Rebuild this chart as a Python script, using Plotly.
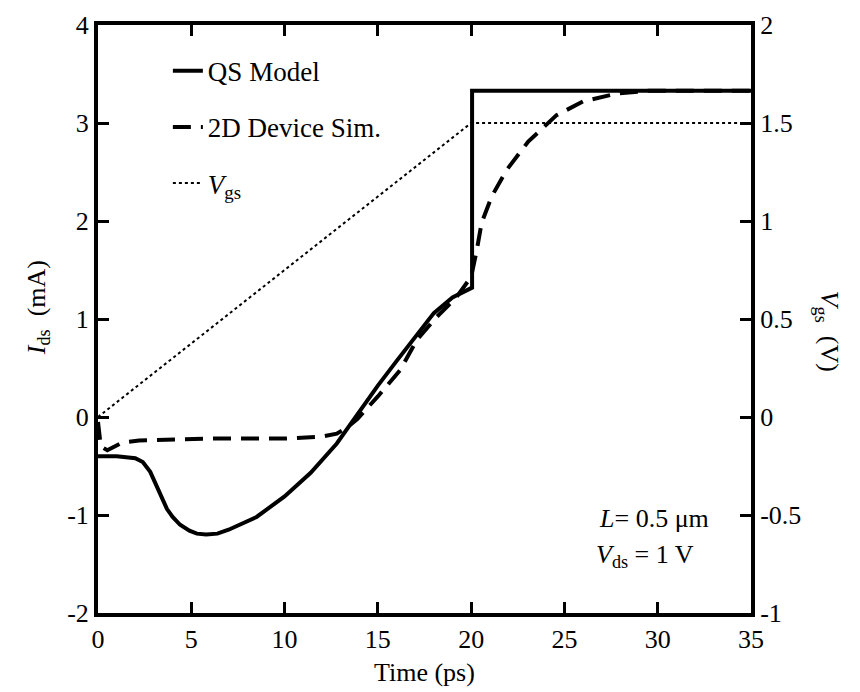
import plotly.graph_objects as go

# ---- data ----
qs_t = [0, 1, 2, 2.4, 2.8, 3.1, 3.4, 3.7, 4.0, 4.4, 4.9, 5.3, 5.8, 6.4, 7.0, 8.5, 10.0,
        11.4, 12.8, 13.7, 14.4, 15.0, 16.0, 17.0, 18.0, 19.0, 20.05, 20.05, 35]
qs_i = [-0.40, -0.40, -0.42, -0.46, -0.56, -0.69, -0.83, -0.94, -1.02, -1.10, -1.16,
        -1.19, -1.20, -1.19, -1.15, -1.02, -0.81, -0.57, -0.27, -0.03, 0.17, 0.32,
        0.57, 0.82, 1.06, 1.22, 1.32, 3.33, 3.33]

sim_t = [0, 0.15, 0.5, 1.3, 2.2, 4, 6, 8, 10, 12, 12.8, 13.4, 13.9, 15.0, 16.2, 17.1,
         18.15, 19.2, 20.0, 20.3, 20.56, 21.1, 21.9, 23.06, 24.58, 26.0, 27.8, 29.5, 35]
sim_i = [-0.05, -0.30, -0.34, -0.26, -0.24, -0.23, -0.22, -0.22, -0.22, -0.20, -0.17,
         -0.10, -0.02, 0.21, 0.48, 0.79, 1.02, 1.22, 1.43, 1.70, 1.98, 2.25, 2.52,
         2.81, 3.08, 3.22, 3.30, 3.33, 3.33]

vgs_t = [0, 20, 35]
vgs_v = [0, 1.5, 1.5]

x_ticks = [0, 5, 10, 15, 20, 25, 30, 35]
x_labels = ["0", "5", "10", "15", "20", "25", "30", "35"]
yl_ticks = [-2, -1, 0, 1, 2, 3, 4]
yl_labels = ["-2", "-1", "0", "1", "2", "3", "4"]
yr_ticks = [-1, -0.5, 0, 0.5, 1, 1.5, 2]
yr_labels = ["-1", "-0.5", "0", "0.5", "1", "1.5", "2"]

FONT = "Liberation Serif, Times New Roman, Times, DejaVu Serif, serif"

fig = go.Figure()
fig.add_trace(go.Scatter(x=qs_t, y=qs_i, mode="lines", name="QS Model",
                         legendgroup="a",
                         line=dict(color="black", width=4)))
fig.add_trace(go.Scatter(x=sim_t, y=sim_i, mode="lines", name="2D Device Sim.",
                         legendgroup="b",
                         line=dict(color="black", width=4, dash="18px,10px")))
fig.add_trace(go.Scatter(x=vgs_t, y=vgs_v, mode="lines", name="<i>V</i><sub>gs</sub>",
                         legendgroup="c", yaxis="y2",
                         line=dict(color="black", width=2, dash="3px,3px")))

axis_common = dict(showline=True, linecolor="black", linewidth=4, ticks="inside",
                   ticklen=11, tickwidth=3, tickcolor="black", showgrid=False,
                   zeroline=False, tickfont=dict(family=FONT, size=26, color="black"))

fig.update_layout(
    width=860, height=692,
    margin=dict(l=98, r=109, t=25, b=79),
    paper_bgcolor="white", plot_bgcolor="white",
    font=dict(family=FONT, size=26, color="black"),
    xaxis=dict(range=[0, 35], tickvals=x_ticks, ticktext=x_labels, mirror="ticks",
               **axis_common),
    yaxis=dict(range=[-2, 4], tickvals=yl_ticks, ticktext=yl_labels, **axis_common),
    yaxis2=dict(range=[-1, 2], tickvals=yr_ticks, ticktext=yr_labels, overlaying="y",
                side="right", **axis_common),
    showlegend=True,
    legend=dict(x=0.107, y=0.963, xanchor="left", yanchor="top", bgcolor="rgba(0,0,0,0)",
                tracegroupgap=18, font=dict(family=FONT, size=27, color="black")),
    annotations=[
        dict(text="Time (ps)", x=0.5, y=-0.102, xref="paper", yref="paper",
             showarrow=False, xanchor="center", yanchor="middle",
             font=dict(family=FONT, size=26)),
        dict(text="<i>I</i><sub>ds</sub>  (mA)", x=-0.092, y=0.52, xref="paper",
             yref="paper", showarrow=False, textangle=-90, xanchor="center",
             yanchor="middle", font=dict(family=FONT, size=26)),
        dict(text="<i>V</i><sub>gs</sub>  (V)", x=1.118, y=0.48, xref="paper",
             yref="paper", showarrow=False, textangle=90, xanchor="center",
             yanchor="middle", font=dict(family=FONT, size=26)),
        dict(text="<i>L</i>= 0.5 μm", x=0.764, y=0.16, xref="paper", yref="paper",
             showarrow=False, xanchor="left", yanchor="middle",
             font=dict(family=FONT, size=26)),
        dict(text="<i>V</i><sub>ds</sub> = 1 V", x=0.76, y=0.097, xref="paper",
             yref="paper", showarrow=False, xanchor="left", yanchor="middle",
             font=dict(family=FONT, size=26)),
    ],
)

fig.write_html("out.html")
